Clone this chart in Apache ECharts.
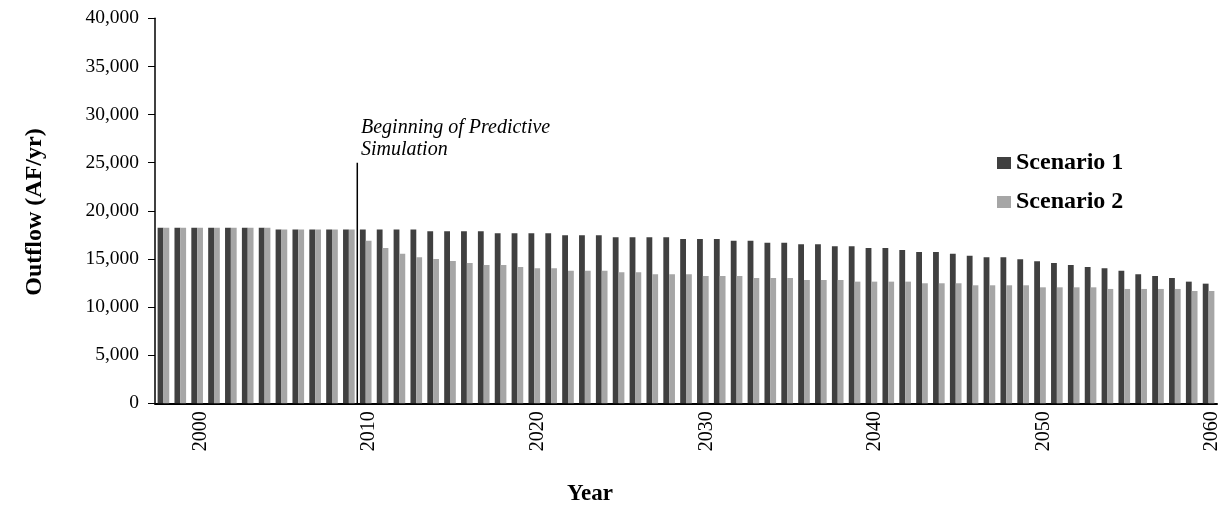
<!DOCTYPE html>
<html>
<head>
<meta charset="utf-8">
<script src="https://cdn.jsdelivr.net/npm/echarts@6/dist/echarts.min.js"></script>
<style>
  html, body { margin: 0; padding: 0; background: #fff; }
  #chart { width: 1230px; height: 527px; }
</style>
</head>
<body>
<div id="chart"></div>
<script>
// Simulation years (one category per year)
const years = [
  1998, 1999, 2000, 2001, 2002, 2003, 2004, 2005, 2006, 2007,
  2008, 2009, 2010, 2011, 2012, 2013, 2014, 2015, 2016, 2017,
  2018, 2019, 2020, 2021, 2022, 2023, 2024, 2025, 2026, 2027,
  2028, 2029, 2030, 2031, 2032, 2033, 2034, 2035, 2036, 2037,
  2038, 2039, 2040, 2041, 2042, 2043, 2044, 2045, 2046, 2047,
  2048, 2049, 2050, 2051, 2052, 2053, 2054, 2055, 2056, 2057,
  2058, 2059, 2060
];

// Outflow, AF/yr
const scenario1 = [
  18250, 18250, 18250, 18250, 18250, 18250, 18250, 18050, 18050, 18050,
  18050, 18050, 18050, 18050, 18050, 18050, 17870, 17870, 17870, 17870,
  17660, 17660, 17660, 17660, 17450, 17450, 17450, 17240, 17240, 17240,
  17240, 17070, 17070, 17070, 16900, 16900, 16690, 16690, 16520, 16520,
  16310, 16310, 16130, 16130, 15930, 15720, 15720, 15550, 15340, 15170,
  15170, 14960, 14750, 14580, 14370, 14160, 14030, 13780, 13400, 13230,
  13020, 12640, 12430
];

const scenario2 = [
  18250, 18250, 18250, 18250, 18250, 18250, 18250, 18050, 18050, 18050,
  18050, 18050, 16900, 16130, 15550, 15170, 14990, 14780, 14580, 14370,
  14370, 14160, 14030, 14030, 13780, 13780, 13780, 13610, 13610, 13400,
  13400, 13400, 13230, 13230, 13230, 13020, 13020, 13020, 12810, 12810,
  12810, 12640, 12640, 12640, 12640, 12470, 12470, 12470, 12260, 12260,
  12260, 12260, 12050, 12050, 12050, 12050, 11880, 11880, 11880, 11880,
  11880, 11670, 11670
];

// Start of the predictive run: category boundary before 2010, up to 25,000
const predictiveStartIndex = 12;
const predictiveMarkerTop = 25000;

const seriesNames = ['Scenario 1', 'Scenario 2'];
const yTicks = { min: 0, max: 40000, step: 5000 };

const FONT = '"Liberation Serif", "Times New Roman", serif';
const chart = echarts.init(document.getElementById('chart'), null, { renderer: 'canvas' });

const fmt = v => v.toLocaleString('en-US');

chart.setOption({
  animation: false,
  backgroundColor: '#ffffff',
  grid: { left: 155, right: 13, top: 18.3, bottom: 123.7, containLabel: false },
  legend: {
    orient: 'vertical',
    left: 997,
    top: 151,
    padding: 0,
    itemWidth: 14,
    itemHeight: 12,
    itemGap: 15,
    icon: 'rect',
    textStyle: { fontFamily: FONT, fontSize: 24, fontWeight: 'bold', color: '#000' },
    data: seriesNames
  },
  xAxis: [
    {
      type: 'category',
      data: years.map(String),
      axisLine: { show: true, lineStyle: { color: '#000', width: 2 } },
      axisTick: { show: false },
      splitLine: { show: false },
      axisLabel: {
        rotate: 90,
        margin: 8,
        verticalAlign: 'top',
        lineHeight: 7,
        interval: (idx, val) => Number(val) % 10 === 0,
        fontFamily: FONT,
        fontSize: 20,
        color: '#000'
      }
    },
    {
      // hidden linear axis over the same categories, used to place the boundary marker
      type: 'value',
      min: 0,
      max: years.length,
      show: false
    }
  ],
  yAxis: {
    type: 'value',
    min: yTicks.min,
    max: yTicks.max,
    interval: yTicks.step,
    axisLine: { show: true, lineStyle: { color: '#000', width: 1.5 } },
    axisTick: { show: true, length: 7, lineStyle: { color: '#000', width: 1 } },
    splitLine: { show: false },
    axisLabel: {
      margin: 16,
      fontFamily: FONT,
      fontSize: 19.5,
      color: '#000',
      formatter: fmt
    }
  },
  series: [
    {
      name: seriesNames[0],
      type: 'bar',
      data: scenario1,
      barGap: '0%',
      barCategoryGap: '31%',
      itemStyle: { color: '#404040' }
    },
    {
      name: seriesNames[1],
      type: 'bar',
      data: scenario2,
      itemStyle: { color: '#a6a6a6' }
    },
    {
      type: 'line',
      xAxisIndex: 1,
      data: [[predictiveStartIndex, 0], [predictiveStartIndex, predictiveMarkerTop]],
      symbol: 'none',
      silent: true,
      lineStyle: { color: '#000', width: 1.5 },
      z: 5
    }
  ],
  graphic: [
    {
      type: 'text',
      left: 361,
      top: 117,
      style: {
        text: 'Beginning of Predictive\nSimulation',
        font: 'italic 20px ' + FONT,
        lineHeight: 22,
        fill: '#000'
      }
    },
    {
      type: 'text',
      x: 35,
      y: 212,
      rotation: Math.PI / 2,
      style: {
        text: 'Outflow (AF/yr)',
        font: 'bold 24px ' + FONT,
        fill: '#000',
        align: 'center',
        verticalAlign: 'middle'
      }
    },
    {
      type: 'text',
      x: 590,
      y: 494,
      style: {
        text: 'Year',
        font: 'bold 23px ' + FONT,
        fill: '#000',
        align: 'center',
        verticalAlign: 'middle'
      }
    }
  ]
});
</script>
</body>
</html>
